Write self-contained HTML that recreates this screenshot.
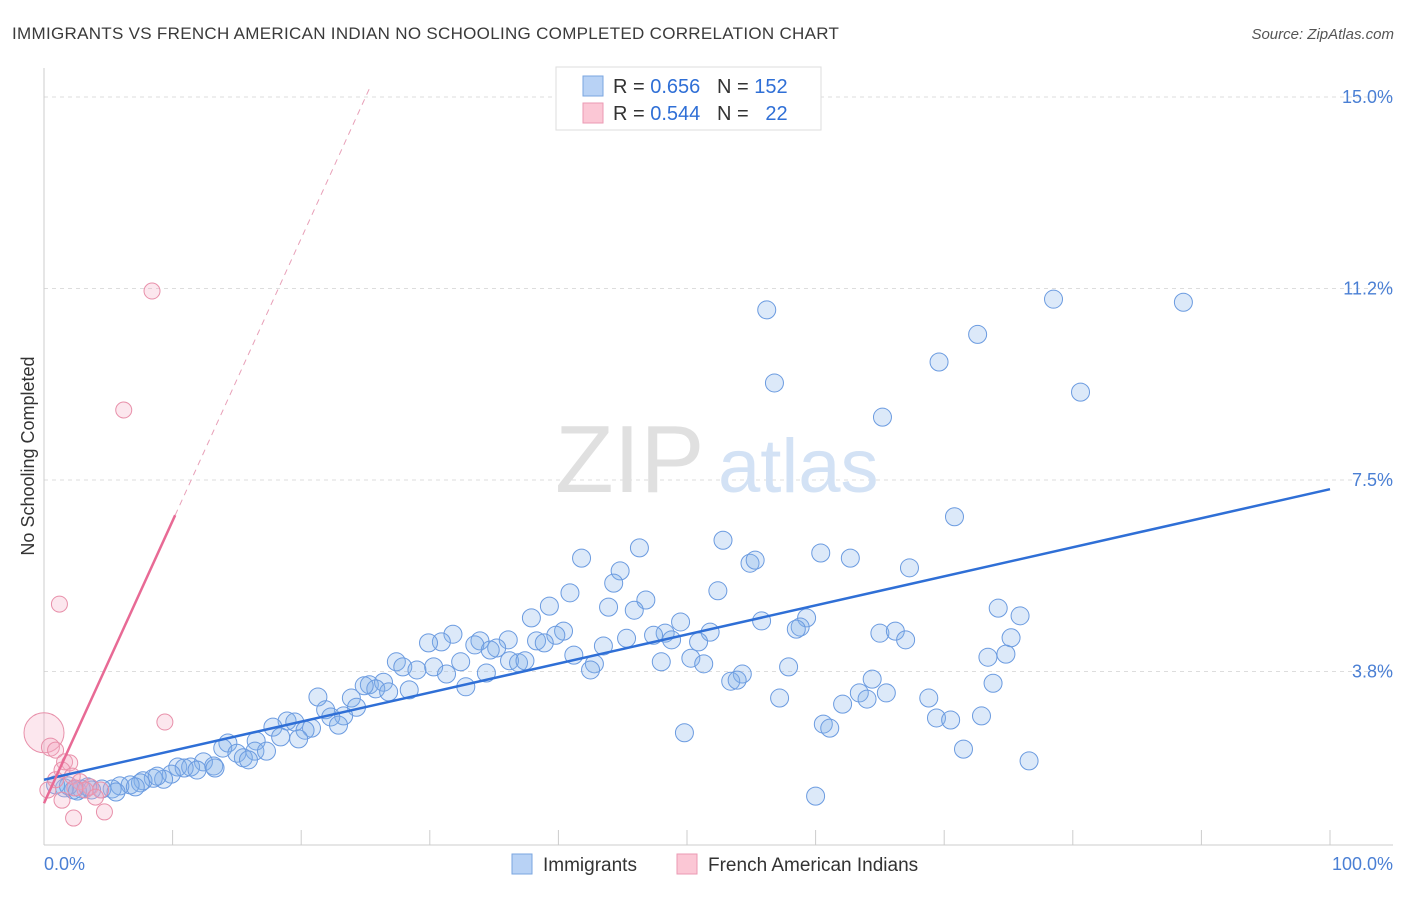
<!DOCTYPE html>
<html><head><meta charset="utf-8"><style>
body{margin:0;background:#fff;font-family:"Liberation Sans",sans-serif;}
svg text{font-family:"Liberation Sans",sans-serif;}
</style></head><body>
<svg width="1406" height="892" viewBox="0 0 1406 892">
<text x="12" y="39" font-size="17" fill="#3a3a3a" letter-spacing="0.3">IMMIGRANTS VS FRENCH AMERICAN INDIAN NO SCHOOLING COMPLETED CORRELATION CHART</text>
<text x="1394" y="39" font-size="15" fill="#555" text-anchor="end" font-style="italic">Source: ZipAtlas.com</text>
<g id="grid"></g>
<g>
<text x="555" y="492" font-size="96" fill="#e0e0e0" font-family="Liberation Serif">ZIP</text>
<text x="718" y="492" font-size="76" fill="#d3e2f5">atlas</text>
</g>
<line x1="44" y1="68" x2="44" y2="845" stroke="#ccc"/>
<line x1="44" y1="845" x2="1393" y2="845" stroke="#ccc"/>
<text x="34" y="456" font-size="18" fill="#333" text-anchor="middle" transform="rotate(-90 34 456)">No Schooling Completed</text>
<text x="44" y="870" font-size="18" fill="#4a7fd4">0.0%</text>
<text x="1393" y="870" font-size="18" fill="#4a7fd4" text-anchor="end">100.0%</text>
<g id="points"></g>
<g id="lines"></g>
<g>
<rect x="556" y="67" width="265" height="63" fill="#fff" stroke="#ddd"/>
<rect x="583" y="76" width="20" height="20" fill="#b8d2f5" stroke="#7aa6e0"/>
<rect x="583" y="103" width="20" height="20" fill="#fbc7d5" stroke="#eb9ab3"/>
<text x="613" y="93" font-size="20" fill="#333">R = <tspan fill="#2f6fd6">0.656</tspan>&#160;&#160;&#160;N = <tspan fill="#2f6fd6">152</tspan></text>
<text x="613" y="120" font-size="20" fill="#333">R = <tspan fill="#2f6fd6">0.544</tspan>&#160;&#160;&#160;N = <tspan fill="#2f6fd6">&#160;&#160;22</tspan></text>
</g>
<g>
<rect x="512" y="854" width="20" height="20" fill="#b8d2f5" stroke="#7aa6e0"/>
<text x="543" y="871" font-size="19" fill="#333">Immigrants</text>
<rect x="677" y="854" width="20" height="20" fill="#fbc7d5" stroke="#eb9ab3"/>
<text x="708" y="871" font-size="19" fill="#333">French American Indians</text>
</g>
</svg>
<script>
const yTicks=[3.8,7.5,11.2,15.0];
const yTickVals=[3.75,7.5,11.25,15.0];
const xTicks=[0,10,20,30,40,50,60,70,80,90,100];
const blueX=[56.2,78.5,88.6,72.6,69.6,56.8,80.6,65.2,70.8,46.3,52.8,41.8,60.4,62.7,54.9,55.3,44.8,44.3,67.3,40.9,52.4,46.8,39.3,43.9,45.9,74.2,75.9,37.9,49.5,55.8,59.3,58.8,58.5,40.4,39.8,38.3,38.9,48.3,47.4,51.8,45.3,48.8,50.9,65.0,66.2,67.0,75.2,43.5,31.8,30.9,29.9,33.9,36.1,33.5,35.2,34.7,41.2,36.2,36.9,37.4,32.4,27.4,27.9,29.0,30.3,31.3,34.4,42.8,42.5,48.0,50.3,51.3,57.9,73.4,74.8,54.3,53.4,53.9,64.4,73.8,25.3,26.4,25.8,24.9,26.8,28.4,32.8,23.9,21.3,63.4,65.5,64.0,62.1,57.2,68.8,24.3,21.9,23.3,22.3,22.9,18.9,19.5,17.8,20.8,20.3,18.4,19.8,69.4,70.5,72.9,60.6,61.1,49.8,14.3,16.5,13.9,15.0,16.4,17.3,15.5,15.9,71.5,76.6,12.4,10.4,11.4,10.9,13.2,11.9,13.3,9.9,9.3,8.5,7.7,8.8,7.5,6.7,5.9,7.1,5.3,4.5,3.7,2.9,2.3,1.6,0.9,1.9,2.6,3.4,5.6,60.0];
const blueY=[10.83,11.04,10.98,10.35,9.81,9.40,9.22,8.73,6.78,6.17,6.32,5.97,6.07,5.97,5.87,5.93,5.72,5.48,5.78,5.29,5.33,5.15,5.03,5.01,4.95,4.99,4.84,4.80,4.72,4.74,4.80,4.62,4.58,4.54,4.46,4.35,4.31,4.50,4.46,4.52,4.40,4.37,4.33,4.50,4.54,4.37,4.41,4.25,4.48,4.33,4.31,4.35,4.37,4.27,4.21,4.17,4.07,3.96,3.92,3.96,3.94,3.94,3.84,3.78,3.84,3.70,3.72,3.90,3.78,3.94,4.01,3.90,3.84,4.03,4.09,3.70,3.56,3.58,3.60,3.52,3.49,3.54,3.41,3.47,3.35,3.39,3.45,3.23,3.25,3.33,3.33,3.21,3.11,3.23,3.23,3.05,3.00,2.88,2.86,2.70,2.78,2.76,2.66,2.64,2.60,2.47,2.43,2.84,2.80,2.88,2.72,2.64,2.55,2.35,2.39,2.25,2.15,2.19,2.19,2.06,2.02,2.23,2.00,1.98,1.88,1.88,1.86,1.90,1.82,1.86,1.74,1.64,1.66,1.61,1.70,1.57,1.53,1.51,1.49,1.45,1.45,1.43,1.45,1.43,1.47,1.53,1.51,1.41,1.49,1.39,1.31];
const pinkX=[8.4,6.2,1.2,9.4,0,0.5,0.9,1.6,2.0,1.4,2.2,2.8,3.6,4.4,3.2,4.0,1.4,2.3,4.7,0.9,0.3,2.4];
const pinkY=[11.2,8.87,5.07,2.76,2.55,2.27,2.21,1.98,1.96,1.82,1.70,1.59,1.49,1.43,1.43,1.29,1.23,0.88,1.00,1.63,1.43,1.47];
const pinkR=[8,8,8,8,20,9,8,8,8,8,8,8,8,8,8,8,8,8,8,8,8,8];
const blueLine=[1.63,7.32];
const pinkLine=[1.17,0.553];
const NS='http://www.w3.org/2000/svg';
const X=v=>44+v*12.86, Y=v=>863-v*51.07;
function mk(t,a,p){const e=document.createElementNS(NS,t);for(const k in a)e.setAttribute(k,a[k]);p.appendChild(e);return e;}
const grid=document.getElementById('grid');
yTickVals.forEach((v,i)=>{
 const l=mk('line',{x1:44,x2:1393,y1:Y(v),y2:Y(v),stroke:'#ddd','stroke-dasharray':'4,4'},grid);
 
 
 const t=mk('text',{x:1393,y:Y(v)+6,'font-size':18,fill:'#4a7fd4','text-anchor':'end'},grid);
 t.textContent=yTicks[i].toFixed(1)+'%';
 
 
});
xTicks.forEach(v=>{
 const l=mk('line',{x1:X(v),x2:X(v),y1:830,y2:845,stroke:'#ccc'},grid);
 
 
});
const pts=document.getElementById('points');
blueX.forEach((v,i)=>{
 const c=mk('circle',{cx:X(v),cy:Y(blueY[i]),r:9,fill:'rgba(130,175,235,0.28)',stroke:'#6b9be0','stroke-width':1},pts);
 
 
});
pinkX.forEach((v,i)=>{
 const c=mk('circle',{cx:X(v),cy:Y(pinkY[i]),r:pinkR[i],fill:'rgba(245,170,195,0.28)',stroke:'#e890aa','stroke-width':1},pts);
 
 
});
const lg=document.getElementById('lines');
const bl=mk('line',{x1:X(0),y1:Y(blueLine[0]),x2:X(100),y2:Y(blueLine[1]),stroke:'#2f6fd6','stroke-width':2.5},lg);


const pk=x=>pinkLine[0]+pinkLine[1]*x;
const pl=mk('line',{x1:X(0),y1:Y(pk(0)),x2:X(10.2),y2:Y(pk(10.2)),stroke:'#e86a95','stroke-width':2.5},lg);


const pd=mk('line',{x1:X(10.2),y1:Y(pk(10.2)),x2:X(25.3),y2:Y(pk(25.3)),stroke:'#e8a0b8','stroke-width':1,'stroke-dasharray':'6,5'},lg);


</script>
</body></html>
